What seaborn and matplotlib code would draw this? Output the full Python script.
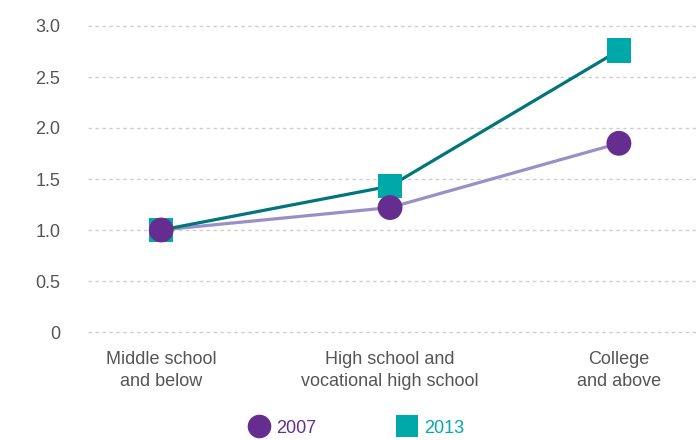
import matplotlib
matplotlib.use("Agg")
import matplotlib.pyplot as plt
import seaborn as sns
import pandas as pd
from matplotlib.lines import Line2D

categories = ["Middle school\nand below", "High school and\nvocational high school", "College\nand above"]
values_2007 = [1.0, 1.22, 1.85]
values_2013 = [1.0, 1.43, 2.76]
yticks = [0, 0.5, 1.0, 1.5, 2.0, 2.5, 3.0]
ytick_labels = ["0", "0.5", "1.0", "1.5", "2.0", "2.5", "3.0"]

sns.set_style("white")
plt.rcParams["font.family"] = ["Liberation Sans", "DejaVu Sans"]

df = pd.DataFrame({
    "x": list(range(len(categories))) * 2,
    "value": values_2007 + values_2013,
    "year": ["2007"] * 3 + ["2013"] * 3,
})

line_colors = {"2007": "#9b8fc8", "2013": "#00757a"}
marker_colors = {"2007": "#662d91", "2013": "#00a9a9"}

fig = plt.figure(figsize=(6.99, 4.40), dpi=100)
ax = fig.add_axes([88 / 699, (440 - 332) / 440, (699 - 88) / 699, (332 - 26) / 440])

for y in yticks:
    ax.axhline(y, color="#cfcfcf", lw=1, ls=(0, (2.5, 2.5)), zorder=0, clip_on=False)

d13 = df[df.year == "2013"]
d07 = df[df.year == "2007"]
sns.lineplot(data=d07, x="x", y="value", color=line_colors["2007"], lw=2.3, ax=ax, zorder=2)
sns.lineplot(data=d13, x="x", y="value", color=line_colors["2013"], lw=2.3, ax=ax, zorder=3)
sns.scatterplot(data=d13, x="x", y="value", marker="s", s=300, color=marker_colors["2013"],
                edgecolor="none", ax=ax, zorder=4, clip_on=False)
sns.scatterplot(data=d07, x="x", y="value", marker="o", s=320, color=marker_colors["2007"],
                edgecolor="none", ax=ax, zorder=5, clip_on=False)

ax.set_xlim(-0.32, 2.35)
ax.set_ylim(0, 3.0)
ax.set_yticks(yticks)
ax.set_yticklabels(ytick_labels)
ax.set_xticks(range(len(categories)))
ax.set_xticklabels(categories, linespacing=1.4)
ax.tick_params(axis="y", length=0, pad=20, labelsize=13, labelcolor="#555555")
ax.tick_params(axis="x", length=0, pad=13.5, labelsize=13, labelcolor="#555555")
for lab in ax.get_yticklabels():
    lab.set_horizontalalignment("right")
ax.set_xlabel("")
ax.set_ylabel("")
for s in ax.spines.values():
    s.set_visible(False)
if ax.get_legend():
    ax.get_legend().remove()

handles = [
    Line2D([], [], marker="o", ls="none", markersize=17, color=marker_colors["2007"], markeredgewidth=0),
    Line2D([], [], marker="s", ls="none", markersize=16, color=marker_colors["2013"], markeredgewidth=0),
]
leg = fig.legend(handles, ["2007", "2013"], loc="center", bbox_to_anchor=(356 / 699, 1 - 428 / 440),
                 ncol=2, frameon=False, fontsize=13, handletextpad=0.35, columnspacing=4.4,
                 handlelength=1.2)
for t, c in zip(leg.get_texts(), [marker_colors["2007"], marker_colors["2013"]]):
    t.set_color(c)

fig.savefig("out.png", dpi=100)
